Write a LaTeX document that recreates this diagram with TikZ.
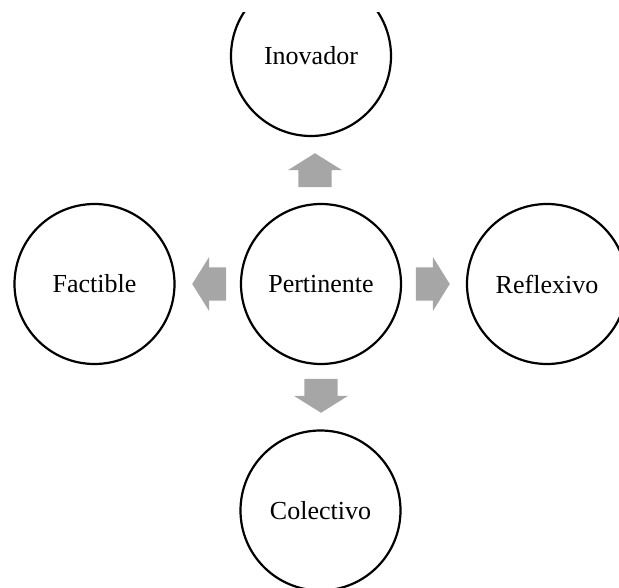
\documentclass[tikz,border=0pt]{standalone}
\usepackage{fontspec}
\setmainfont{Liberation Serif}
\usepackage{tikz}
\usetikzlibrary{shapes.arrows,positioning}
\definecolor{arrowgray}{RGB}{166,166,166}

\begin{document}
\begin{tikzpicture}[x=1pt,y=-1pt,
  idea/.style={circle,draw=black,line width=2.2pt,minimum size=160pt,inner sep=0pt,font=\fontsize{26}{30}\selectfont},
  blockarrow/.style={single arrow,fill=arrowgray,draw=none,inner xsep=0pt,inner ysep=16.5pt,minimum height=34pt,minimum width=54pt,single arrow head extend=10.5pt,single arrow tip angle=116,anchor=tip}]
\useasboundingbox (0,0) rectangle (619,588);
\clip (0,13) rectangle (619,588);
\node[idea] (pertinente) at (321,284) {Pertinente};
\node[idea] (inovador) at (311,56) {Inovador};
\node[idea] (factible) at (94.5,284) {Factible};
\node[idea] (reflexivo) at (547,284) {Reflexivo};
\node[idea] (colectivo) at (320.5,510.5) {Colectivo};
\node[blockarrow,rotate=90] (up) at (315,153) {};
\node[blockarrow,rotate=180] (left) at (192,284) {};
\node[blockarrow] (right) at (450,284) {};
\node[blockarrow,rotate=-90] (down) at (321,413) {};
\end{tikzpicture}
\end{document}
